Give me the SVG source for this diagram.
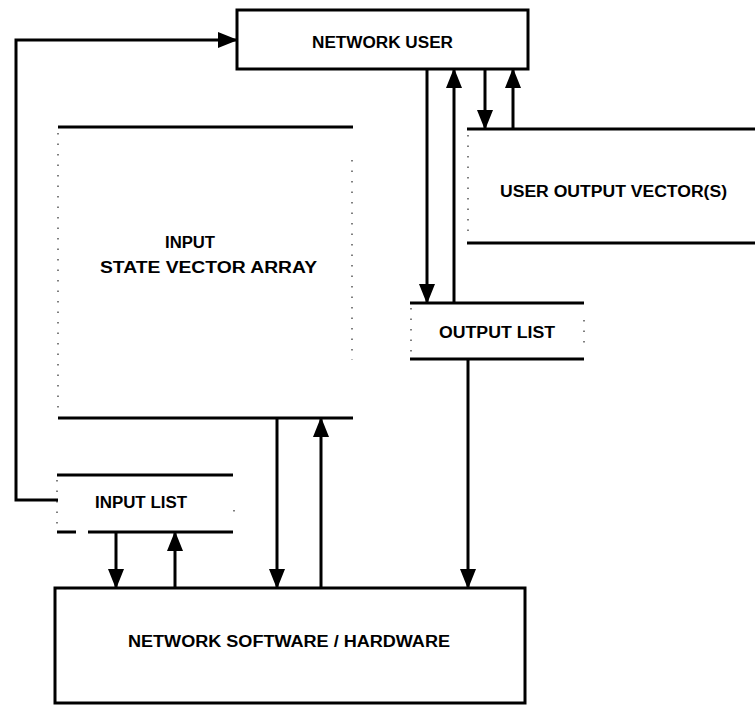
<svg xmlns="http://www.w3.org/2000/svg" width="755" height="709" viewBox="0 0 755 709">
<style>
.box{fill:none;stroke:#000;stroke-width:3}
.edge{stroke:#000;stroke-width:3;fill:none}
.side{stroke:#555;stroke-width:1.5;stroke-dasharray:1.5 9;fill:none}
.conn{stroke:#000;stroke-width:3;fill:none}
text{font-family:"Liberation Sans",Arial,sans-serif;font-weight:bold;font-size:16px;fill:#000}
</style>
<defs>
<marker id="ah" markerUnits="userSpaceOnUse" markerWidth="20" markerHeight="16" refX="19" refY="8" orient="auto" viewBox="0 0 20 16">
<path d="M0,0 L20,8 L0,16 z" fill="#000"/>
</marker>
</defs>
<rect width="755" height="709" fill="#fff"/>
<g id="network-user">
<rect class="box" x="237" y="10" width="291" height="59"/>
<text x="312" y="48" textLength="141" lengthAdjust="spacingAndGlyphs">NETWORK USER</text>
</g>
<g id="state-vector-array">
<line class="edge" x1="58" y1="127" x2="353" y2="127"/>
<line class="edge" x1="58" y1="418" x2="353" y2="418"/>
<line class="side" x1="58" y1="133" x2="58" y2="412"/>
<line class="side" x1="352" y1="160" x2="352" y2="360"/>
<text x="165" y="248" textLength="50" lengthAdjust="spacingAndGlyphs">INPUT</text>
<text x="100" y="273" textLength="217" lengthAdjust="spacingAndGlyphs">STATE VECTOR ARRAY</text>
</g>
<g id="user-output-vectors">
<line class="edge" x1="467" y1="129" x2="755" y2="129"/>
<line class="edge" x1="467" y1="243" x2="755" y2="243"/>
<line class="side" x1="468" y1="135" x2="468" y2="237"/>
<text x="500" y="197" textLength="227" lengthAdjust="spacingAndGlyphs">USER OUTPUT VECTOR(S)</text>
</g>
<g id="output-list">
<line class="edge" x1="410" y1="303" x2="584" y2="303"/>
<line class="edge" x1="410" y1="359" x2="584" y2="359"/>
<line class="side" x1="411" y1="308" x2="411" y2="354"/>
<line class="side" x1="584" y1="320" x2="584" y2="350"/>
<text x="439" y="338" textLength="116" lengthAdjust="spacingAndGlyphs">OUTPUT LIST</text>
</g>
<g id="input-list">
<line class="edge" x1="57" y1="475" x2="233" y2="475"/>
<line class="edge" x1="57" y1="532" x2="76" y2="532"/>
<line class="edge" x1="88" y1="532" x2="233" y2="532"/>
<line class="side" x1="57" y1="480" x2="57" y2="528"/>
<line class="side" x1="234" y1="510" x2="234" y2="515"/>
<text x="95" y="508" textLength="92" lengthAdjust="spacingAndGlyphs">INPUT LIST</text>
</g>
<g id="network-software-hardware">
<rect class="box" x="55" y="588" width="470" height="115"/>
<text x="128" y="647" textLength="322" lengthAdjust="spacingAndGlyphs">NETWORK SOFTWARE / HARDWARE</text>
</g>
<g id="connectors">
<path class="conn" d="M58,500 H16 V40 H237" marker-end="url(#ah)"/>
<line class="conn" x1="427" y1="69" x2="427" y2="303" marker-end="url(#ah)"/>
<line class="conn" x1="454" y1="303" x2="454" y2="69" marker-end="url(#ah)"/>
<line class="conn" x1="485" y1="69" x2="485" y2="129" marker-end="url(#ah)"/>
<line class="conn" x1="513" y1="129" x2="513" y2="69" marker-end="url(#ah)"/>
<line class="conn" x1="468" y1="359" x2="468" y2="588" marker-end="url(#ah)"/>
<line class="conn" x1="277" y1="418" x2="277" y2="588" marker-end="url(#ah)"/>
<line class="conn" x1="321" y1="588" x2="321" y2="418" marker-end="url(#ah)"/>
<line class="conn" x1="116" y1="532" x2="116" y2="588" marker-end="url(#ah)"/>
<line class="conn" x1="175" y1="588" x2="175" y2="532" marker-end="url(#ah)"/>
</g>
</svg>
